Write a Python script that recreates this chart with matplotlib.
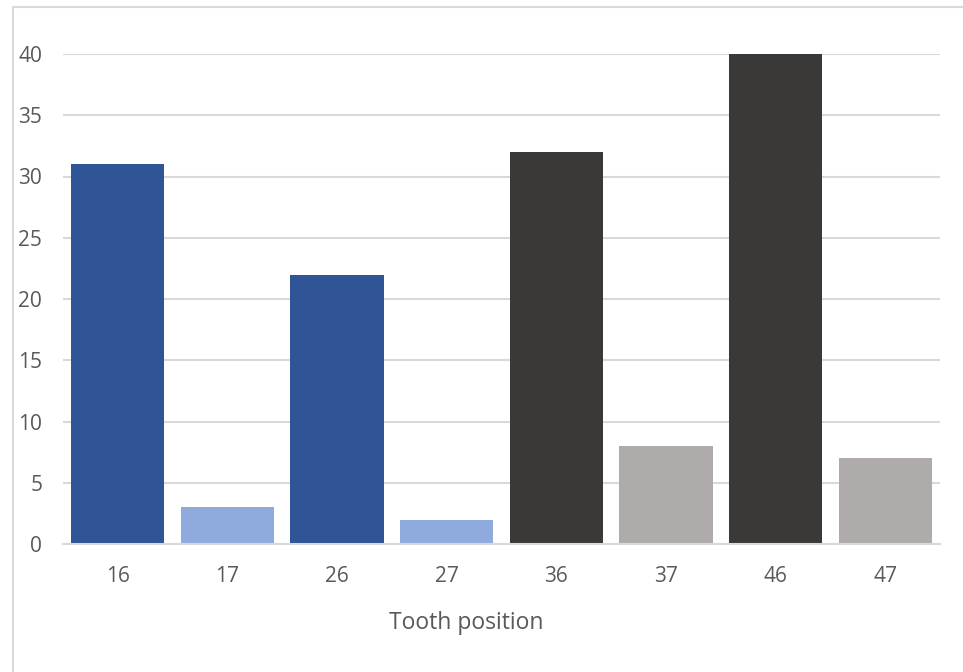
import matplotlib.pyplot as plt
from matplotlib.patches import Rectangle

# tooth positions and counts
positions = ["16", "17", "26", "27", "36", "37", "46", "47"]
counts = [31, 3, 22, 2, 32, 8, 40, 7]
bar_colors = ["#2F5597", "#8FAADC", "#2F5597", "#8FAADC",
              "#3B3938", "#AFABAB", "#3B3938", "#AFABAB"]

plt.rcParams["font.family"] = ["Open Sans", "DejaVu Sans"]

W, H = 963, 672
fig = plt.figure(figsize=(W / 100, H / 100), dpi=100)
ax = fig.add_axes([63 / W, 1 - 544 / H, (940 - 63) / W, (544 - 54) / H])

x = range(len(positions))
ax.bar(x, counts, width=0.85, color=bar_colors, zorder=3)

ax.set_xlim(-0.5, len(positions) - 0.5)
ax.set_ylim(0, 40)
ax.set_yticks(range(0, 41, 5))
ax.set_xticks(list(x))
ax.set_xticklabels(positions)

ax.grid(axis="y", color="#D9D9D9", linewidth=1.5, zorder=0)
for side in ["top", "right", "left"]:
    ax.spines[side].set_visible(False)
ax.spines["bottom"].set_color("#D9D9D9")
ax.spines["bottom"].set_linewidth(1.5)
ax.spines["bottom"].set_zorder(4)

ax.tick_params(axis="both", length=0, labelsize=15, labelcolor="#595959")
ax.tick_params(axis="x", pad=16)
ax.tick_params(axis="y", pad=15)

# axis title sits centred under the whole chart
fig.text(466 / W, 1 - 623 / H, "Tooth position", fontsize=16.5,
         color="#595959", ha="center", va="center")

# chart frame
fig.patches.append(Rectangle((13 / W, -0.1), 1.2, 1 - 7 / H + 0.1,
                             transform=fig.transFigure, fill=False,
                             edgecolor="#D9D9D9", linewidth=1.5))

plt.savefig("out.png", dpi=100)
